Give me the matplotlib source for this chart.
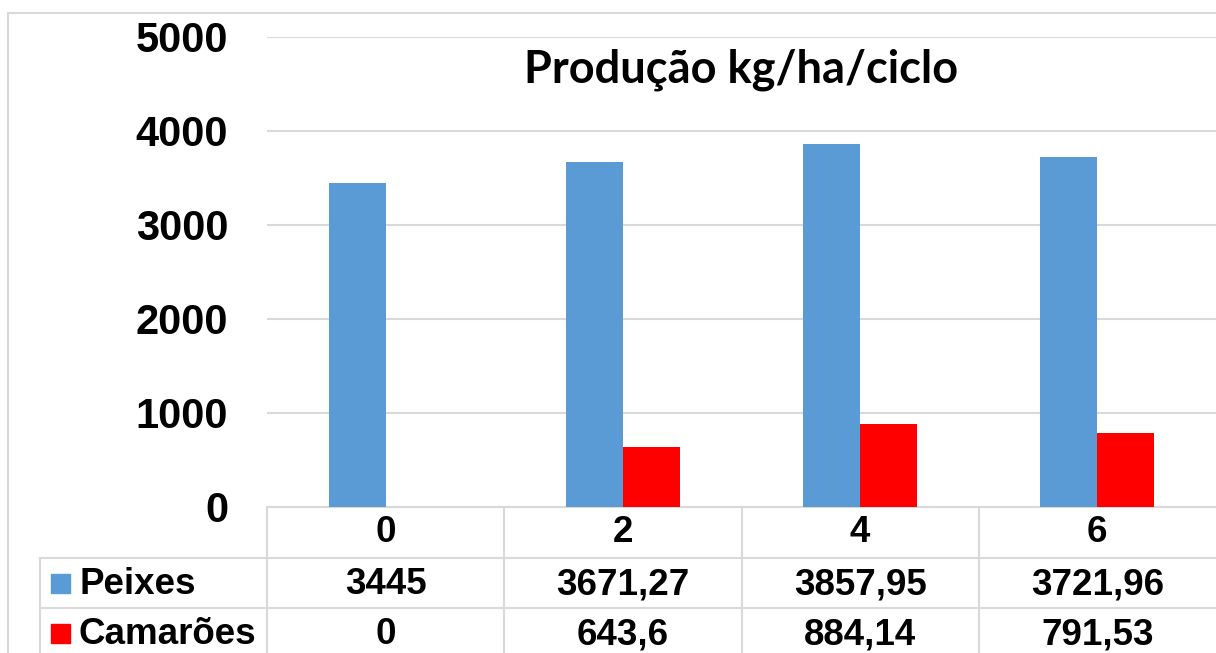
import matplotlib
matplotlib.use('agg')
from matplotlib import pyplot as plt
from matplotlib.lines import Line2D
from matplotlib.patches import Rectangle
import numpy as np

# dados de produção por ciclo
categorias = ['0', '2', '4', '6']
peixes = [3445, 3671.27, 3857.95, 3721.96]
camaroes = [0, 643.6, 884.14, 791.53]
series = ['Peixes', 'Camarões']
cores = ['#5b9bd5', '#ff0000']
yticks = [0, 1000, 2000, 3000, 4000, 5000]

grid_cor = '#d9d9d9'
W, H = 1216, 653


def fmt(v):
    return f'{v:g}'.replace('.', ',')


fig = plt.figure(figsize=(W / 100, H / 100), dpi=100)
ax = fig.add_axes([267 / W, 1 - 507 / H, 1 - 267 / W, (507 - 37) / H])

x = np.arange(len(categorias))
w = 0.24
ax.bar(x - w / 2, peixes, w, color=cores[0], zorder=3)
ax.bar(x + w / 2, camaroes, w, color=cores[1], zorder=3)

ax.set_xlim(-0.5, len(categorias) - 0.5)
ax.set_ylim(0, 5000)
ax.set_yticks(yticks)
ax.set_yticklabels([str(t) for t in yticks], fontsize=30, fontweight='bold',
                   family='Liberation Sans')
ax.tick_params(axis='y', length=0, pad=28)
ax.set_xticks([])
ax.grid(axis='y', color=grid_cor, linewidth=1.5, zorder=0)
for s in ['top', 'right', 'left']:
    ax.spines[s].set_visible(False)
ax.spines['bottom'].set_color(grid_cor)
ax.spines['bottom'].set_linewidth(1.5)

ax.text(0.5, 0.93, 'Produção kg/ha/ciclo', transform=ax.transAxes,
        ha='center', va='center', fontsize=32.5, fontweight='bold', family='Lato')


# tabela de dados abaixo do eixo (coordenadas em pixels da figura)
def px(xp, yp):
    return xp / W, 1 - yp / H


def hline(y, x0, x1):
    fig.add_artist(Line2D([x0 / W, x1 / W], [1 - y / H, 1 - y / H],
                          color=grid_cor, linewidth=1.5))


def vline(xp, y0, y1):
    fig.add_artist(Line2D([xp / W, xp / W], [1 - y0 / H, 1 - y1 / H],
                          color=grid_cor, linewidth=1.5))


# moldura externa
hline(13, 8, W)
vline(8, 13, H)

hline(558, 40, W)
hline(608, 40, W)
vline(40, 558, H)
vline(267, 507, H)
col_w = (W - 267) / len(categorias)
for i in range(1, len(categorias)):
    vline(267 + i * col_w, 507, H)

tab_font = dict(fontsize=26.5, fontweight='bold', family='Liberation Sans',
                ha='center', va='center')
linhas_y = [585, 635]
for i, c in enumerate(categorias):
    cx = 267 + (i + 0.5) * col_w
    fig.text(*px(cx, 533), c, **tab_font)
    fig.text(*px(cx, linhas_y[0]), fmt(peixes[i]), **tab_font)
    fig.text(*px(cx, linhas_y[1]), fmt(camaroes[i]), **tab_font)

for nome, cor, y in zip(series, cores, linhas_y):
    fig.add_artist(Rectangle(px(51, y + 7.5), 19 / W, 19 / H, color=cor))
    fig.text(*px(79, y), nome, fontsize=26.5, fontweight='bold',
             family='Liberation Sans', ha='left', va='center')

fig.savefig('out.png', dpi=100)
